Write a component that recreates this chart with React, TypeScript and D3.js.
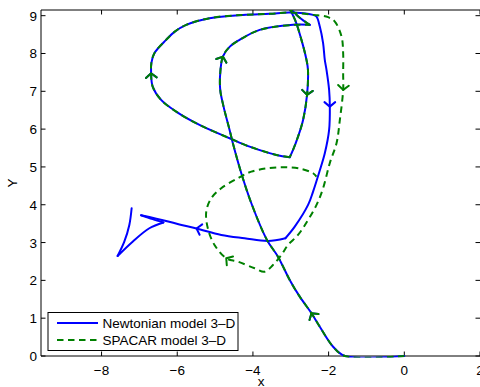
import React from 'react';
import * as d3 from 'd3';

const width = 480;
const height = 387;

const xDomain = [-9.6, 2];
const yDomain = [0, 9.15];
const xTicks = [-8, -6, -4, -2, 0, 2];
const yTicks = [0, 1, 2, 3, 4, 5, 6, 7, 8, 9];
const xLabel = 'x';
const yLabel = 'Y';
const seriesNames = ['Newtonian model 3\u2013D', 'SPACAR model 3\u2013D'];

// common part of both trajectories (start -> inner loop -> cusp)
const sharedLeg1 = [
  [0, 0], [-1.571, 0], [-1.881, 0.246], [-2.233, 0.775], [-2.453, 1.13],
  [-2.763, 1.569], [-3.028, 2.011], [-3.338, 2.627], [-3.629, 3.069],
  [-4.042, 4.04], [-4.307, 4.833], [-4.53, 5.627], [-4.617, 5.979],
  [-4.776, 6.595], [-4.864, 7.037], [-4.864, 7.479], [-4.795, 7.918],
  [-4.617, 8.175], [-4.352, 8.36], [-3.823, 8.624], [-2.94, 8.757], [-2.498, 8.757],
];
const sharedLeg2 = [[-2.498, 8.757], [-2.78, 8.96], [-3.07, 9.25]];
const sharedLeg3 = [
  [-3.07, 9.25], [-2.887, 8.889], [-2.718, 8.36], [-2.585, 7.831], [-2.546, 7.566],
  [-2.57, 6.905], [-2.675, 6.243], [-2.808, 5.802], [-2.94, 5.45], [-3.028, 5.257],
];
const sharedLoop = [
  [-3.028, 5.257], [-3.38, 5.317], [-4.087, 5.537], [-4.617, 5.759], [-5.412, 6.111],
  [-6.029, 6.463], [-6.426, 6.772], [-6.649, 7.124], [-6.691, 7.479], [-6.683, 7.751],
  [-6.604, 8.008], [-6.294, 8.36], [-6.074, 8.571], [-5.764, 8.757], [-5.147, 8.934],
  [-4.265, 9.021], [-3.558, 9.048], [-3.028, 9.082], [-2.411, 9.021],
];

// Newtonian only
const newtonRight = [
  [-2.411, 9.021], [-2.32, 8.976], [-2.233, 8.711], [-2.146, 8.272], [-2.101, 7.831],
  [-2.056, 7.566], [-1.987, 7.037], [-1.968, 6.595], [-1.987, 5.979], [-2.101, 5.362],
  [-2.246, 4.868], [-2.411, 4.347], [-2.543, 3.995], [-2.895, 3.421], [-3.142, 3.114],
];
const newtonBack = [
  [-3.142, 3.114], [-3.603, 3.042], [-4.22, 3.114], [-4.837, 3.201], [-5.49, 3.373],
  [-5.942, 3.479], [-6.294, 3.571], [-6.956, 3.722],
];
const newtonReturn = [[-6.956, 3.722], [-6.65, 3.62], [-6.366, 3.532]];
const newtonHook = [[-6.366, 3.532], [-6.737, 3.378], [-7.179, 3.024], [-7.576, 2.646]];
const newtonEnd = [[-7.576, 2.646], [-7.399, 3.024], [-7.266, 3.466], [-7.205, 3.907]];

// SPACAR only
const spacarRight = [
  [-2.411, 9.021], [-2.013, 8.96], [-1.836, 8.844], [-1.658, 8.447], [-1.616, 8.008],
  [-1.616, 7.479], [-1.616, 7.037], [-1.703, 6.243], [-1.791, 5.627], [-1.968, 5.106],
  [-2.146, 4.437], [-2.32, 3.995], [-2.543, 3.598], [-2.808, 3.201], [-3.073, 2.937],
  [-3.248, 2.672], [-3.47, 2.407], [-3.69, 2.23], [-3.955, 2.32], [-4.397, 2.495],
  [-4.705, 2.585], [-5.015, 2.937], [-5.192, 3.378], [-5.234, 3.817], [-5.102, 4.172],
  [-4.837, 4.437], [-4.397, 4.701], [-4.042, 4.876], [-3.603, 4.966], [-3.16, 4.992],
  [-2.718, 4.947], [-2.411, 4.833], [-2.32, 4.743],
];

// direction markers, placed on path vertices
const sharedArrows = [[-2.453, 1.13], [-4.795, 7.918], [-6.691, 7.479], [-2.57, 6.905]];
const newtonArrows = [[-1.968, 6.595], [-5.49, 3.373]];
const spacarArrows = [[-1.616, 7.037], [-4.705, 2.585]];

const newtonSegments = [sharedLeg1, sharedLeg2, sharedLeg3, sharedLoop.concat(newtonRight.slice(1)),
  newtonBack, newtonReturn, newtonHook, newtonEnd];
const spacarSegments = [sharedLeg1, sharedLeg2, sharedLeg3, sharedLoop.concat(spacarRight.slice(1))];

const blue = '#0000ff';
const green = '#008000';
const font = '"Liberation Sans", Arial, Helvetica, sans-serif';

const x = d3.scaleLinear().domain(xDomain).range([41, 480]);
const y = d3.scaleLinear().domain(yDomain).range([356, 10]);

const line = d3.line<number[]>()
  .x(d => x(d[0]))
  .y(d => y(d[1]))
  .curve(d3.curveCatmullRom.alpha(0.5));

function arrowPath(pt: number[], segments: number[][][]) {
  let best: any = null;
  segments.forEach(seg => seg.forEach((p, i) => {
    const d = Math.hypot(p[0] - pt[0], p[1] - pt[1]);
    if (!best || d < best.d) best = { d, seg, i };
  }));
  const { seg, i } = best;
  const a = seg[Math.max(0, i - 1)];
  const b = seg[Math.min(seg.length - 1, i + 1)];
  const ang = Math.atan2(y(b[1]) - y(a[1]), x(b[0]) - x(a[0]));
  const tx = x(pt[0]), ty = y(pt[1]);
  const L = 7, spread = (50 * Math.PI) / 180;
  const p1 = [tx - L * Math.cos(ang - spread), ty - L * Math.sin(ang - spread)];
  const p2 = [tx - L * Math.cos(ang + spread), ty - L * Math.sin(ang + spread)];
  return `M${p1[0]},${p1[1]}L${tx},${ty}L${p2[0]},${p2[1]}`;
}

const fmt = (v: number) => (v < 0 ? '\u2212' + Math.abs(v) : String(v));

export default function App() {
  const [x0, x1] = x.range();
  const [y0, y1] = y.range();
  const legendX = 48, legendY = 312.5, legendW = 190, legendH = 38;
  return (
    <svg width={width} height={height} style={{ position: 'absolute', left: 0, top: 0, background: '#fff' }}>
      <defs>
        <clipPath id="plotArea">
          <rect x={x0} y={y1} width={x1 - x0 + 2} height={y0 - y1 + 1.5} />
        </clipPath>
      </defs>
      <rect width={width} height={height} fill="#fff" />

      {/* axes box */}
      <g stroke="#000" strokeWidth={1} fill="none">
        <line x1={x0} x2={x1 + 2} y1={y1} y2={y1} />
        <line x1={x0} x2={x1 + 2} y1={y0} y2={y0} />
        <line x1={x0} x2={x0} y1={y1} y2={y0} />
        {xTicks.map(t => (
          <g key={'xt' + t}>
            <line x1={x(t)} x2={x(t)} y1={y0} y2={y0 - 4.5} />
            <line x1={x(t)} x2={x(t)} y1={y1} y2={y1 + 4.5} />
          </g>
        ))}
        {yTicks.map(t => (
          <g key={'yt' + t}>
            <line x1={x0} x2={x0 + 4.5} y1={y(t)} y2={y(t)} />
            <line x1={x1} x2={x1 - 4.5} y1={y(t)} y2={y(t)} />
          </g>
        ))}
      </g>

      <g clipPath="url(#plotArea)" fill="none" strokeLinejoin="round" strokeLinecap="round">
        {newtonSegments.map((s, i) => (
          <path key={'n' + i} d={line(s) || ''} stroke={blue} strokeWidth={2} />
        ))}
        {sharedArrows.concat(newtonArrows).map((p, i) => (
          <path key={'na' + i} d={arrowPath(p, newtonSegments)} stroke={blue} strokeWidth={2} />
        ))}
        {spacarSegments.map((s, i) => (
          <path key={'s' + i} d={line(s) || ''} stroke={green} strokeWidth={2}
            strokeDasharray="6.5,4.5" strokeLinecap="butt" />
        ))}
        {sharedArrows.concat(spacarArrows).map((p, i) => (
          <path key={'sa' + i} d={arrowPath(p, spacarSegments)} stroke={green} strokeWidth={2} />
        ))}
      </g>

      <g fontFamily={font} fontSize={13.5} fill="#000">
        {xTicks.map(t => (
          <text key={'xl' + t} x={x(t)} y={y0 + 19} textAnchor="middle">{fmt(t)}</text>
        ))}
        {yTicks.map(t => (
          <text key={'yl' + t} x={x0 - 4} y={y(t) + 5} textAnchor="end">{fmt(t)}</text>
        ))}
        <text x={261} y={386} textAnchor="middle">{xLabel}</text>
        <text transform="translate(17,183) rotate(-90)" textAnchor="middle">{yLabel}</text>
      </g>

      {/* legend */}
      <g>
        <rect x={legendX} y={legendY} width={legendW} height={legendH} fill="#fff" stroke="#000" strokeWidth={1} />
        {seriesNames.map((name, i) => {
          const ly = legendY + 10.5 + i * 17;
          return (
            <g key={name}>
              <line x1={57} x2={98} y1={ly} y2={ly} stroke={i === 0 ? blue : green} strokeWidth={2}
                strokeDasharray={i === 0 ? undefined : '6.5,4.5'} />
              <text x={102.5} y={ly + 5} fontFamily={font} fontSize={13.5}>{name}</text>
            </g>
          );
        })}
      </g>
    </svg>
  );
}
